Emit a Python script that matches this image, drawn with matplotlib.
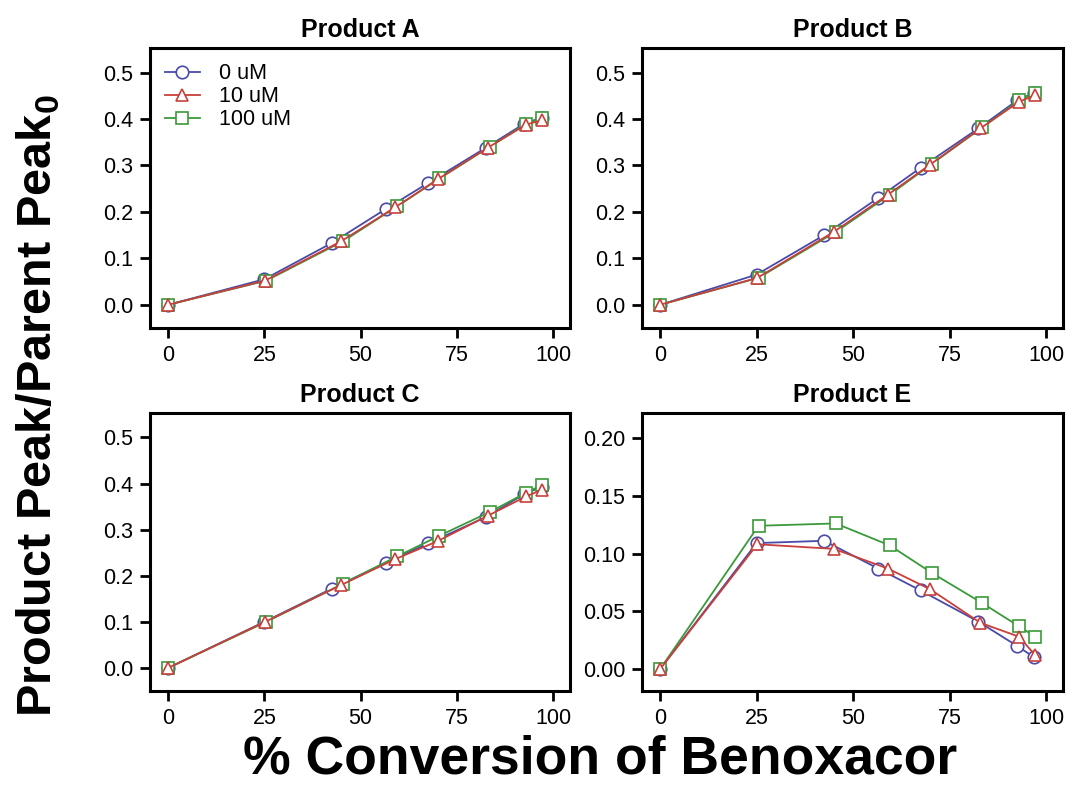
import matplotlib
matplotlib.use("Agg")
import matplotlib.pyplot as plt
from matplotlib.ticker import FormatStrFormatter

plt.rcParams['font.family'] = ['Liberation Sans', 'DejaVu Sans']
plt.rcParams['mathtext.fontset'] = 'custom'
plt.rcParams['mathtext.bf'] = 'Liberation Sans:bold'
plt.rcParams['mathtext.rm'] = 'Liberation Sans:bold'

# x positions (% conversion) for each concentration
x_0 = [0, 25, 42.5, 56.5, 67.5, 82.5, 92.5, 97]
x_10 = [0, 25.2, 45, 59, 70, 83, 93, 97.2]
x_100 = [0, 25.5, 45.5, 59.5, 70.5, 83.5, 93, 97.2]

labels = ['0 uM', '10 uM', '100 uM']
titles = ['Product A', 'Product B', 'Product C', 'Product E']

# product / parent peak ratios
a_0 = [0, 0.055, 0.133, 0.206, 0.262, 0.338, 0.390, 0.403]
a_10 = [0, 0.052, 0.137, 0.210, 0.270, 0.338, 0.388, 0.398]
a_100 = [0, 0.052, 0.137, 0.212, 0.272, 0.340, 0.390, 0.402]

b_0 = [0, 0.065, 0.150, 0.230, 0.295, 0.380, 0.440, 0.457]
b_10 = [0, 0.058, 0.157, 0.237, 0.302, 0.380, 0.437, 0.452]
b_100 = [0, 0.058, 0.157, 0.237, 0.304, 0.382, 0.440, 0.457]

c_0 = [0, 0.100, 0.172, 0.228, 0.270, 0.327, 0.377, 0.393]
c_10 = [0, 0.100, 0.180, 0.236, 0.275, 0.330, 0.372, 0.387]
c_100 = [0, 0.100, 0.183, 0.242, 0.287, 0.338, 0.380, 0.397]

e_0 = [0, 0.109, 0.111, 0.087, 0.068, 0.041, 0.020, 0.010]
e_10 = [0, 0.108, 0.104, 0.087, 0.069, 0.040, 0.028, 0.012]
e_100 = [0, 0.124, 0.126, 0.107, 0.083, 0.057, 0.037, 0.028]

data = [(a_0, a_10, a_100), (b_0, b_10, b_100), (c_0, c_10, c_100), (e_0, e_10, e_100)]
xs = [x_0, x_10, x_100]
colors = ['#4a4aa8', '#c8403c', '#3a9a3a']
markers = ['o', '^', 's']
zorders = [3, 5, 4]  # triangles end up on top, like the original

fig = plt.figure(figsize=(10.66, 7.91), dpi=100)
W, H = 1066, 791
boxes = [(150, 48, 570, 328), (642, 48, 1063, 328),
         (150, 413, 570, 691), (642, 413, 1063, 691)]

for i, (l, t, r, b) in enumerate(boxes):
    ax = fig.add_axes([l / W, 1 - b / H, (r - l) / W, (b - t) / H])
    for xv, yv, c, m, lab, z in zip(xs, data[i], colors, markers, labels, zorders):
        ax.plot(xv, yv, color=c, marker=m, ms=9, mfc='white', mec=c,
                mew=1.2, lw=1.3, label=lab, zorder=z)
    ax.set_xlim(-4.7, 104.4)
    ax.set_xticks([0, 25, 50, 75, 100])
    if i == 3:
        ax.set_ylim(-0.019, 0.2216)
        ax.set_yticks([0, 0.05, 0.10, 0.15, 0.20])
        ax.yaxis.set_major_formatter(FormatStrFormatter('%.2f'))
    else:
        ax.set_ylim(-0.05, 0.553)
        ax.set_yticks([0, 0.1, 0.2, 0.3, 0.4, 0.5])
        ax.yaxis.set_major_formatter(FormatStrFormatter('%.1f'))
    for s in ax.spines.values():
        s.set_linewidth(2.2)
    ax.tick_params(direction='out', length=7, width=2, labelsize=15.5, pad=5)
    ax.set_title(titles[i], fontsize=18, fontweight='bold', pad=8)
    if i == 0:
        ax.legend(loc='upper left', frameon=False, fontsize=15.5,
                  handlelength=1.6, labelspacing=0.1, borderaxespad=0.3,
                  handletextpad=0.9)

fig.text(0.036, 0.487, r'Product Peak/Parent Peak$_\mathbf{0}$', rotation=90,
         ha='center', va='center', fontsize=35, fontweight='bold')
fig.text(0.563, 0.04, '% Conversion of Benoxacor', ha='center', va='center',
         fontsize=38.5, fontweight='bold')

fig.savefig('out.png', dpi=100)
